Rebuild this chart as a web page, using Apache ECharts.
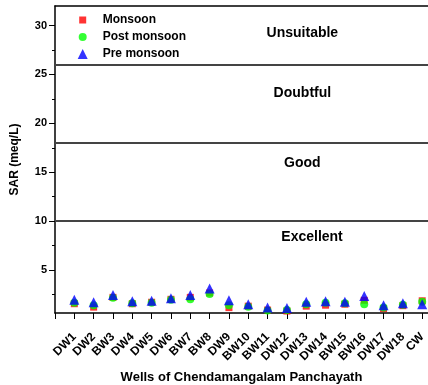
<!DOCTYPE html>
<html>
<head>
<meta charset="utf-8">
<script src="https://cdn.jsdelivr.net/npm/echarts@6/dist/echarts.min.js"></script>
<style>html,body{margin:0;padding:0;background:#fff}#c{width:428px;height:385px}</style>
</head>
<body>
<div id="c"></div>
<script>
const categories = ['DW1','DW2','BW3','DW4','DW5','DW6','BW7','BW8','DW9','BW10','BW11','DW12','DW13','DW14','BW15','BW16','DW17','DW18','CW'];
const monsoon    = [1.55,1.2,2.2,1.55,1.7,2.0,2.2,2.65,1.15,1.3,0.9,0.8,1.3,1.4,1.5,1.9,1.05,1.35,1.85];
const postMonsoon= [1.65,1.4,2.15,1.6,1.65,1.95,2.0,2.55,1.4,1.25,0.85,0.9,1.5,1.65,1.6,1.5,1.15,1.45,1.75];
const preMonsoon = [1.95,1.7,2.45,1.8,1.85,2.1,2.45,3.1,1.9,1.5,1.15,1.1,1.75,1.8,1.75,2.35,1.4,1.6,1.5];
const yMajorTicks = [5,10,15,20,25,30];
const yMinorTicks = [2.5,7.5,12.5,17.5,22.5,27.5];
const classLimits = [26,18,10];
const classLabels = [
  {name:'Unsuitable', x:12.8, y:29.2},
  {name:'Doubtful', x:12.8, y:23.1},
  {name:'Good', x:12.8, y:15.9},
  {name:'Excellent', x:13.3, y:8.4}
];

const FONT = 'Liberation Sans, Arial, sans-serif';
const pairs = arr => arr.map((v,i)=>[i+1,v]);
const xIdx = categories.map((c,i)=>i+1);
const xTicks = [0].concat(xIdx);

const chart = echarts.init(document.getElementById('c'), null, {renderer:'canvas'});
function legendFor(name, size, top){
  return {orient:'vertical', left:82.7 - size/2, top:top, padding:0,
    itemWidth:size, itemHeight:size, symbolKeepAspect:true, selectedMode:false,
    data:[name],
    textStyle:{fontFamily:FONT, fontWeight:'bold', fontSize:12, color:'#000', lineHeight:14,
      padding:[0,0,0,15 - size/2]}};
}
chart.setOption({
  animation:false,
  backgroundColor:'#fff',
  grid:{left:55, top:6, right:0, bottom:72, containLabel:false, outerBoundsMode:'none'},
  legend:[
    legendFor('Monsoon', 7, 13),
    legendFor('Post monsoon', 8, 30),
    legendFor('Pre monsoon', 10, 47)
  ],
  xAxis:[{
    type:'value', min:0, max:19.3,
    name:'Wells of Chendamangalam Panchayath', nameLocation:'middle', nameGap:58,
    nameTextStyle:{fontFamily:FONT, fontWeight:'bold', fontSize:13, color:'#000'},
    axisLine:{show:true, lineStyle:{color:'#000', width:1.5}},
    axisTick:{show:true, length:6, customValues:xTicks, lineStyle:{color:'#000', width:1}},
    axisLabel:{show:true, customValues:xIdx, rotate:45, margin:22,
      fontFamily:FONT, fontWeight:'bold', fontSize:12, color:'#000',
      formatter:v=>categories[Math.round(v)-1]||''},
    splitLine:{show:false}
  },{
    type:'value', min:0, max:19.3, position:'top',
    axisLine:{show:true, lineStyle:{color:'#000', width:1.5}},
    axisTick:{show:false}, axisLabel:{show:false}, splitLine:{show:false}
  }],
  yAxis:[{
    type:'value', min:0.6, max:32,
    name:'SAR (meq/L)', nameLocation:'middle', nameGap:34,
    nameTextStyle:{fontFamily:FONT, fontWeight:'bold', fontSize:12, color:'#000'},
    axisLine:{show:true, lineStyle:{color:'#000', width:1.5}},
    axisTick:{show:true, length:6, customValues:yMajorTicks, lineStyle:{color:'#000', width:1}},
    axisLabel:{show:true, customValues:yMajorTicks, margin:8,
      fontFamily:FONT, fontWeight:'bold', fontSize:11, color:'#000'},
    splitLine:{show:false}
  },{
    type:'value', min:0.6, max:32, position:'left',
    axisLine:{show:false},
    axisTick:{show:true, length:3, customValues:yMinorTicks, lineStyle:{color:'#000', width:1}},
    axisLabel:{show:false}, splitLine:{show:false}
  }],
  series:[{
    name:'Monsoon', type:'scatter', symbol:'rect', symbolSize:7,
    itemStyle:{color:'#ff0000'}, data:pairs(monsoon),
    markLine:{silent:true, symbol:'none', label:{show:false},
      lineStyle:{color:'#444', width:2, type:'solid'},
      data:classLimits.map(v=>({yAxis:v}))},
    markPoint:{silent:true, symbol:'circle', symbolSize:0,
      label:{show:true, position:'inside', formatter:p=>p.name,
        fontFamily:FONT, fontWeight:'bold', fontSize:14, color:'#000'},
      data:classLabels.map(c=>({name:c.name, coord:[c.x,c.y]}))}
  },{
    name:'Post monsoon', type:'scatter', symbol:'circle', symbolSize:8,
    itemStyle:{color:'#00ff00'}, data:pairs(postMonsoon)
  },{
    name:'Pre monsoon', type:'scatter', symbol:'triangle', symbolSize:10,
    itemStyle:{color:'#0000ff'}, data:pairs(preMonsoon)
  }]
});
</script>
</body>
</html>
